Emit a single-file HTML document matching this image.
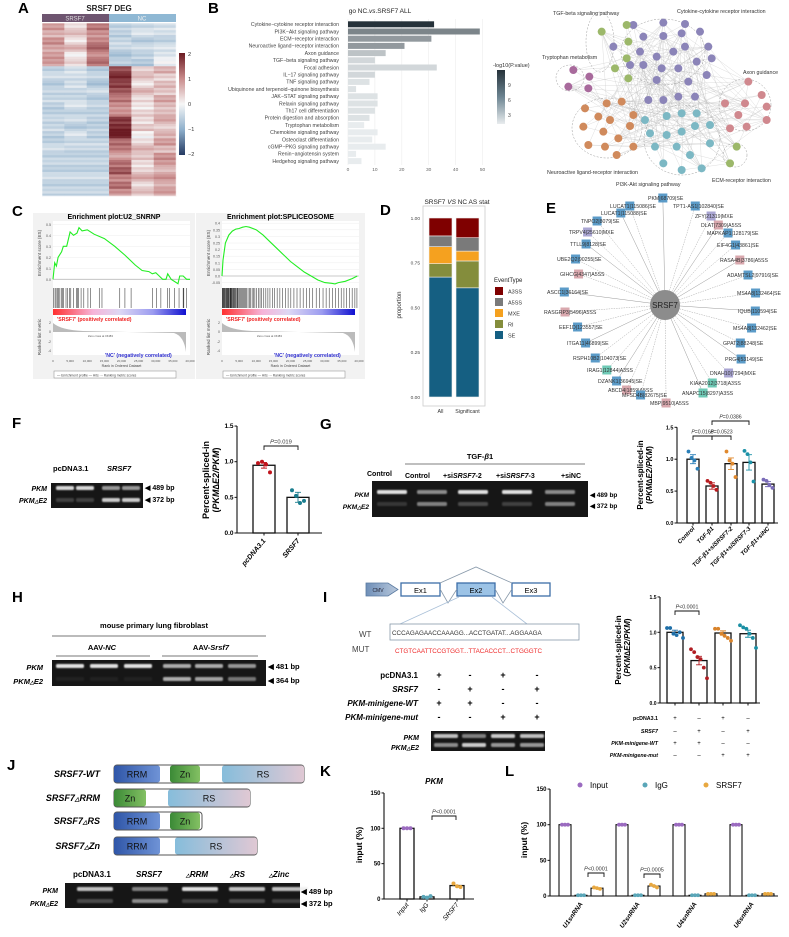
<!DOCTYPE html>
<html><head><meta charset="utf-8"><style>
html,body{margin:0;padding:0;background:#fff;}
svg{display:block;font-family:"Liberation Sans",Arial,sans-serif;}
.pl{font-size:15px;font-weight:bold;fill:#000;}
</style></head><body>
<svg id="fig" width="789" height="937" viewBox="0 0 789 937" xmlns="http://www.w3.org/2000/svg">
<defs>
<linearGradient id="gRRM" x1="0" x2="1"><stop offset="0" stop-color="#2f56a8"/><stop offset="1" stop-color="#6f93d6"/></linearGradient>
<linearGradient id="gZn" x1="0" x2="1"><stop offset="0" stop-color="#3b8a36"/><stop offset="1" stop-color="#83c063"/></linearGradient>
<linearGradient id="gRS" x1="0" x2="1"><stop offset="0" stop-color="#86bddb"/><stop offset="1" stop-color="#e0c8d4"/></linearGradient>
<linearGradient id="gRank" x1="0" x2="1"><stop offset="0" stop-color="#ff3030"/><stop offset="0.3" stop-color="#f6b4d8"/><stop offset="0.5" stop-color="#ddd8f4"/><stop offset="0.75" stop-color="#9c9cf0"/><stop offset="1" stop-color="#1010d0"/></linearGradient>
<linearGradient id="gCb" x1="0" y1="0" x2="0" y2="1"><stop offset="0" stop-color="#6b1a22"/><stop offset="0.25" stop-color="#c98b8b"/><stop offset="0.5" stop-color="#f7f7f7"/><stop offset="0.75" stop-color="#8fb0cc"/><stop offset="1" stop-color="#253a62"/></linearGradient>
<linearGradient id="gPv" x1="0" y1="0" x2="0" y2="1"><stop offset="0" stop-color="#26323a"/><stop offset="0.5" stop-color="#6d8592"/><stop offset="1" stop-color="#e8ecee"/></linearGradient>
<linearGradient id="gArrow" x1="0" x2="1"><stop offset="0" stop-color="#6f8fb8"/><stop offset="1" stop-color="#b8c8dc"/></linearGradient>
<filter id="blur" x="-20%" y="-50%" width="140%" height="200%"><feGaussianBlur stdDeviation="0.8"/></filter>
</defs>
<!-- panel letters -->
<text class="pl" x="18" y="13">A</text>
<text class="pl" x="208" y="13">B</text>
<text class="pl" x="12" y="216">C</text>
<text class="pl" x="380" y="215">D</text>
<text class="pl" x="546" y="213">E</text>
<text class="pl" x="12" y="428">F</text>
<text class="pl" x="320" y="429">G</text>
<text class="pl" x="12" y="602">H</text>
<text class="pl" x="323" y="602">I</text>
<text class="pl" x="7" y="770">J</text>
<text class="pl" x="320" y="776">K</text>
<text class="pl" x="505" y="776">L</text>

<!-- A -->
<text x="109" y="11" font-size="8" font-weight="bold" text-anchor="middle" fill="#222">SRSF7 DEG</text>
<rect x="42" y="14" width="67" height="8" fill="#6e5570"/>
<rect x="109" y="14" width="67" height="8" fill="#8fb8d4"/>
<text x="75" y="20.5" font-size="6" text-anchor="middle" fill="#ddd">SRSF7</text>
<text x="142" y="20.5" font-size="6" text-anchor="middle" fill="#eee">NC</text>
<g id="heat"></g>
<rect x="179" y="53" width="6" height="102" fill="url(#gCb)"/>
<g font-size="5.5" fill="#333">
<text x="188" y="56">2</text><text x="188" y="81">1</text><text x="188" y="106">0</text><text x="188" y="131">−1</text><text x="188" y="156">−2</text></g>

<!-- B -->
<text x="380" y="13" font-size="6.5" text-anchor="middle" fill="#222">go NC.<tspan font-style="italic">vs</tspan>.SRSF7 ALL</text>
<g id="goBars"></g>
<text x="493" y="67" font-size="5.5" fill="#333">-log10(P.value)</text>
<rect x="497" y="70" width="8" height="54" fill="url(#gPv)"/>
<g font-size="5" fill="#444"><text x="508" y="87">9</text><text x="508" y="102">6</text><text x="508" y="117">3</text></g>
<g id="net"></g>

<!-- C -->
<g id="gsea"></g>

<!-- D -->
<text x="457" y="204" font-size="6.5" text-anchor="middle" fill="#222">SRSF7 <tspan font-style="italic">VS</tspan> NC AS stat</text>
<g id="asStat"></g>

<!-- E -->
<g id="star"></g>

<!-- F -->
<text x="53" y="471" font-size="7.5" font-weight="bold">pcDNA3.1</text>
<text x="107" y="471" font-size="7.5" font-weight="bold" font-style="italic">SRSF7</text>
<text x="47" y="491" font-size="7" font-weight="bold" font-style="italic" text-anchor="end">PKM</text>
<text x="47" y="503" font-size="7" font-weight="bold" font-style="italic" text-anchor="end">PKM<tspan font-size="5">△</tspan>E2</text>
<g id="gelF"></g>
<g font-size="7" font-weight="bold"><text x="145" y="490">◀ 489 bp</text><text x="145" y="502">◀ 372 bp</text></g>
<g id="chartF"></g>

<!-- G -->
<text x="480" y="459" font-size="7.5" font-weight="bold" text-anchor="middle">TGF-<tspan font-style="italic">β</tspan>1</text>
<line x1="405" y1="464" x2="585" y2="464" stroke="#999" stroke-width="1.2"/>
<text x="367" y="476" font-size="7" font-weight="bold">Control</text>
<g font-size="7" font-weight="bold"><text x="405" y="478">Control</text><text x="443" y="478">+si<tspan font-style="italic">SRSF7</tspan>-2</text><text x="496" y="478">+si<tspan font-style="italic">SRSF7</tspan>-3</text><text x="561" y="478">+siNC</text></g>
<text x="369" y="497" font-size="6.5" font-weight="bold" font-style="italic" text-anchor="end">PKM</text>
<text x="369" y="509" font-size="6.5" font-weight="bold" font-style="italic" text-anchor="end">PKM<tspan font-size="5">△</tspan>E2</text>
<g id="gelG"></g>
<g font-size="6.5" font-weight="bold"><text x="590" y="497">◀ 489 bp</text><text x="590" y="508">◀ 372 bp</text></g>
<g id="chartG"></g>

<!-- H -->
<text x="154" y="628" font-size="7.5" font-weight="bold" text-anchor="middle">mouse primary lung fibroblast</text>
<line x1="52" y1="636" x2="266" y2="636" stroke="#777"/>
<text x="102" y="650" font-size="7.5" font-weight="bold" text-anchor="middle">AAV-<tspan font-style="italic">NC</tspan></text>
<text x="211" y="650" font-size="7.5" font-weight="bold" text-anchor="middle">AAV-<tspan font-style="italic">Srsf7</tspan></text>
<line x1="56" y1="656" x2="150" y2="656" stroke="#777"/>
<line x1="162" y1="656" x2="258" y2="656" stroke="#777"/>
<text x="43" y="670" font-size="7.5" font-weight="bold" font-style="italic" text-anchor="end">PKM</text>
<text x="43" y="684" font-size="7.5" font-weight="bold" font-style="italic" text-anchor="end">PKM<tspan font-size="5">△</tspan>E2</text>
<g id="gelH"></g>
<g font-size="7.5" font-weight="bold"><text x="268" y="669">◀ 481 bp</text><text x="268" y="683">◀ 364 bp</text></g>

<!-- I -->
<g>
<path d="M366 583 H388 L398 589.5 L388 596 H366 Z" fill="url(#gArrow)" stroke="#5a7aa0" stroke-width="0.8"/>
<text x="378" y="592" font-size="5" text-anchor="middle" fill="#223">CMV</text>
<rect x="401" y="583" width="39" height="13" fill="#fff" stroke="#3d6ea8" stroke-width="1.3"/>
<text x="420.5" y="593" font-size="7.5" text-anchor="middle">Ex1</text>
<rect x="457" y="583" width="38" height="13" fill="#9cc3e6" stroke="#3d6ea8" stroke-width="1.3"/>
<text x="476" y="593" font-size="7.5" text-anchor="middle">Ex2</text>
<rect x="512" y="583" width="38" height="13" fill="#fff" stroke="#3d6ea8" stroke-width="1.3"/>
<text x="531" y="593" font-size="7.5" text-anchor="middle">Ex3</text>
<path d="M440 583 L476 567 L512 583" fill="none" stroke="#8899aa" stroke-width="0.8"/>
<path d="M440 589 L448 603 L457 589 M495 589 L503 603 L512 589" fill="none" stroke="#8899aa" stroke-width="0.8"/>
<path d="M459 597 L400 624 M492 597 L527 624" fill="none" stroke="#aac0d8" stroke-width="0.8"/>
<rect x="390" y="624" width="189" height="16" fill="#fff" stroke="#8899aa" stroke-width="0.8"/>
<text x="392" y="635" font-size="6.3" fill="#333">CCCAGAGAACCAAAGG...ACCTGATAT...AGGAAGA</text>
<text x="359" y="637" font-size="8" fill="#444">WT</text>
<text x="352" y="652" font-size="8" fill="#444">MUT</text>
<text x="395" y="653" font-size="6.3" fill="#ee2a2a">CTGTCAATTCCGTGGT...TTACACCCT...CTGGGTC</text>
</g>
<g font-size="8" font-weight="bold" text-anchor="end">
<text x="418" y="678">pcDNA3.1</text><text x="418" y="692" font-style="italic">SRSF7</text><text x="418" y="706" font-style="italic">PKM-minigene-WT</text><text x="418" y="720" font-style="italic">PKM-minigene-mut</text></g>
<g id="tblI"></g>
<text x="419" y="740" font-size="7" font-weight="bold" font-style="italic" text-anchor="end">PKM</text>
<text x="419" y="750" font-size="7" font-weight="bold" font-style="italic" text-anchor="end">PKM<tspan font-size="5">△</tspan>E2</text>
<g id="gelI"></g>
<g id="chartI"></g>

<!-- J -->
<g id="domains"></g>
<g font-size="8" font-weight="bold"><text x="73" y="877">pcDNA3.1</text><text x="136" y="877" font-style="italic">SRSF7</text><text x="186" y="877" font-style="italic"><tspan font-size="5">△</tspan>RRM</text><text x="230" y="877" font-style="italic"><tspan font-size="5">△</tspan>RS</text><text x="269" y="877" font-style="italic"><tspan font-size="5">△</tspan>Zinc</text></g>
<text x="58" y="893" font-size="7" font-weight="bold" font-style="italic" text-anchor="end">PKM</text>
<text x="58" y="906" font-size="7" font-weight="bold" font-style="italic" text-anchor="end">PKM<tspan font-size="5">△</tspan>E2</text>
<g id="gelJ"></g>
<g font-size="7.5" font-weight="bold"><text x="301" y="894">◀ 489 bp</text><text x="301" y="906">◀ 372 bp</text></g>

<!-- K, L -->
<g id="chartK"></g>
<g id="chartL"></g>
</svg>
<script>
// ===== data =====
const heatBands=[[0.9,0.3,1.2,-0.5,-0.4,-0.3],[0.6,0.5,0.9,-0.6,-0.3,-0.4],[1.0,0.2,1.1,-0.4,-0.6,-0.5],[0.7,0.6,1.3,-0.5,-0.4,-0.3],[0.9,0.1,1.0,-0.7,-0.5,-0.2],[0.8,0.3,1.2,-0.6,-0.7,-0.1],
[-0.5,-0.3,-0.6,1.6,0.4,0.7],[-0.4,-0.4,-0.5,1.8,0.5,0.3],[-0.6,-0.3,-0.7,1.7,0.2,0.6],[-0.5,-0.5,-0.4,1.4,0.6,0.4],[-0.4,-0.4,-0.6,1.2,0.3,0.8],[-0.6,-0.3,-0.5,0.9,0.1,0.5],[-0.5,-0.5,-0.5,1.0,0.4,0.6],[-0.5,-0.4,-0.6,1.7,0.2,0.7],[-0.4,-0.6,-0.5,1.9,0.5,0.4],[-0.6,-0.3,-0.6,2.0,0.0,0.6],[-0.5,-0.4,-0.4,1.3,0.3,0.9],[-0.4,-0.5,-0.5,1.1,0.6,0.5],[-0.5,-0.5,-0.5,0.8,0.5,1.0],[-0.5,-0.5,-0.5,1.2,0.2,0.8],[-0.5,-0.5,-0.5,1.5,0.4,0.6],[-0.4,-0.4,-0.4,1.0,0.7,0.9],[-0.5,-0.5,-0.5,1.3,0.3,0.7],[-0.5,-0.5,-0.5,0.9,0.5,0.8]];
const heatStripeOffsets=[0,0.15,-0.12];

const goTerms=["Cytokine−cytokine receptor interaction","PI3K−Akt signaling pathway","ECM−receptor interaction","Neuroactive ligand−receptor interaction","Axon guidance","TGF−beta signaling pathway","Focal adhesion","IL−17 signaling pathway","TNF signaling pathway","Ubiquinone and terpenoid−quinone biosynthesis","JAK−STAT signaling pathway","Relaxin signaling pathway","Th17 cell differentiation","Protein digestion and absorption","Tryptophan metabolism","Chemokine signaling pathway","Osteoclast differentiation","cGMP−PKG signaling pathway","Renin−angiotensin system","Hedgehog signaling pathway"];
const goCounts=[32,49,31,21,14,10,33,10,8,3,11,11,10,8,6,11,9,14,3,5];
const goLogP=[11,7,6,6,4,3,3,3,2.5,2.5,2.5,2.5,2.5,2.5,2,2,2,2,2,2];
const goTicks=[0,10,20,30,40,50];

const gseaRanksL=[0,500,1000,1500,2500,3000,4000,5000,6000,7000,7600,8500,10000,12000,15000,18000,21000,24000,26000,28000,29000,30000,31000,32000,33000,33500,34500,36500,37000,38000,39000,40000];
const gseaESL=[0,0.15,0.12,0.2,0.25,0.3,0.3,0.43,0.4,0.42,0.47,0.44,0.45,0.41,0.37,0.3,0.22,0.13,0.08,0.07,0.05,0.06,0.03,0.0,0.0,0.05,0.0,-0.04,0.03,0.03,0.0,0.0];
const gseaHitsL=[200,600,900,1300,1600,2000,2400,2700,3100,3800,4300,4800,5200,6000,6800,7200,7500,8200,9000,10200,11000,13500,14300,19500,21000,22800,29000,30200,31500,33500,34000,35500,36800,38000,38200,39000];
const gseaRanksR=[0,300,1000,2000,3000,4000,5000,6000,7000,8000,10000,12000,14000,16000,18000,20000,22000,24000,26000,28000,30000,32000,33000,34000,36000,38000,39500];
const gseaESR=[0,0.12,0.25,0.31,0.34,0.355,0.36,0.37,0.375,0.37,0.35,0.31,0.26,0.21,0.16,0.11,0.07,0.03,0.0,-0.03,-0.05,-0.055,-0.06,-0.05,-0.04,-0.02,0.0];
const gseaHitsR=[100,250,400,550,700,850,1000,1200,1350,1500,1700,1850,2000,2200,2400,2550,2700,2900,3100,3300,3500,3700,3900,4100,4400,4600,4900,5100,5400,5700,6000,6300,6600,6900,7200,7600,8000,8400,8800,9200,9600,10100,10600,11100,11600,12200,12800,13400,14000,14700,15400,16100,16900,17700,18500,19300,20100,21000,21900,22800,23700,24600,25500,26500,27500,28500,29500,30400,31300,32200,33100,34000,34800,35600,36400,37200,38000,38800,39400];

const asEventTypes=["SE","RI","MXE","A5SS","A3SS"];
const asEventColors=["#155f82","#848d3c","#f5a11f","#7a7a7a","#7f0000"];
const asGroups=["All","Significant"];
const asAll=[0.67,0.075,0.095,0.06,0.10];
const asSig=[0.61,0.15,0.055,0.075,0.11];
const asTicks=[0,0.25,0.5,0.75,1.0];

const starLabels=["PKM|68709|SE","LUCAT1|115086|SE","TPT1-AS1|102840|SE","LUCAT1|115088|SE","ZFY|21319|MXE","TNPO2|8079|SE","DLAT|7309|A5SS","TRPV4|25610|MXE","MAPKAP1|128179|SE","TTLL9|8128|SE","EIF4G1|43861|SE","UBE2Q2|90255|SE","RASA4B|3786|A5SS","GIHCG|4347|A5SS","ADAMTSL2|97916|SE","ASCC1|36164|SE","MS4A8|132464|SE","RASGRP3|5496|A5SS","IQUB|110594|SE","EEF1D|123557|SE","MS4A8|132462|SE","ITGA11|46899|SE","GPAT2|88248|SE","RSPH10B2|104073|SE","PRG4|53149|SE","IRAG1|12844|A3SS","DNAH10|7294|MXE","DZANK1|36945|SE","KIAA2012|3718|A3SS","ABCD4|1859|A5SS","ANAPC15|8297|A3SS","MFSD4B|82675|SE","MBP|9510|A5SS"];

const fGroups=["pcDNA3.1","SRSF7"];
const fMeans=[0.95,0.5];
const fSem=[0.04,0.07];
const fPoints=[[0.98,1.0,0.96,0.85],[0.6,0.52,0.42,0.45]];
const psiTicks=[0,0.5,1.0,1.5];

const gGroups=["Control","TGF-β1","TGF-β1+siSRSF7-2","TGF-β1+siSRSF7-3","TGF-β1+siNC"];
const gMeans=[1.0,0.58,0.93,0.95,0.61];
const gSem=[0.07,0.05,0.09,0.12,0.04];
const gPoints=[[1.12,1.02,0.98,0.85],[0.66,0.63,0.58,0.52],[1.12,0.98,0.93,0.72],[1.13,1.08,0.95,0.65],[0.68,0.66,0.6,0.55]];

const iMeans=[1.0,0.6,0.99,0.98];
const iSem=[0.03,0.06,0.03,0.05];
const iPoints=[[1.06,1.06,0.98,0.96,1.0,0.92],[0.76,0.72,0.65,0.62,0.5,0.35],[1.05,1.05,0.98,0.95,0.92,0.88],[1.1,1.07,1.05,0.98,0.92,0.78]];
const iTable=[["+","-","+","-"],["-","+","-","+"],["+","+","-","-"],["-","-","+","+"]];

const kGroups=["Input","IgG","SRSF7"];
const kPoints=[[100,100,100],[3,2,4],[22,18,17]];
const kMeans=[100,3,19];
const ripTicks=[0,50,100,150];

const lGenes=["U1snRNA","U2snRNA","U4snRNA","U6snRNA"];
const lInput=[100,100,100,100];
const lIgG=[1,1,1,1];
const lSRSF7=[11,14,3,3];
const lSRSF7Points=[[12,11,10],[16,14,12],[3,3,3],[3,3,3]];

const gelFUpper=[0.9,0.9,0.6,0.6], gelFLower=[0.2,0.2,0.85,0.85];
const gelGUpper=[0.95,0.55,0.95,0.95,0.55], gelGLower=[0.15,0.5,0.25,0.2,0.5];
const gelHUpper=[0.95,0.95,0.95,0.7,0.7,0.6], gelHLower=[0.05,0.05,0.05,0.7,0.65,0.45];
const gelIUpper=[0.8,0.5,0.85,0.8], gelILower=[0.55,0.85,0.6,0.6];
const gelJUpper=[0.8,0.5,0.95,0.8,0.8], gelJLower=[0.25,0.55,0.2,0.25,0.2];

// ===== helpers =====
const NS='http://www.w3.org/2000/svg';
function mk(tag,attrs,parent){const e=document.createElementNS(NS,tag);for(const k in attrs)e.setAttribute(k,attrs[k]);parent.appendChild(e);return e;}
function tx(str,x,y,size,attrs,parent){const a=Object.assign({x:x,y:y,'font-size':size},attrs||{});const e=mk('text',a,parent);e.textContent=str;return e;}
function $(id){return document.getElementById(id);}
function lerp(a,b,t){return a+(b-a)*t;}
function mix(c1,c2,t){return 'rgb('+[0,1,2].map(i=>Math.round(lerp(c1[i],c2[i],t))).join(',')+')';}
function heatColor(v){v=Math.max(-2,Math.min(2,v));
 const stops=[[-2,[37,58,98]],[-1,[143,176,204]],[0,[247,247,247]],[1,[201,139,139]],[2,[107,26,34]]];
 for(let i=0;i<4;i++){if(v<=stops[i+1][0]){return mix(stops[i][1],stops[i+1][1],(v-stops[i][0]));}}return 'rgb(107,26,34)';}

// ===== A heatmap =====
(function(){const g=$('heat');const x0=42,w=22.35,y0=23,bh=173/heatBands.length;
 heatBands.forEach((row,r)=>{row.forEach((v,c)=>{heatStripeOffsets.forEach((o,s)=>{
  const e=mk('rect',{x:x0+c*w,y:y0+r*bh+s*bh/3,width:w+0.3,height:bh/3+0.3,fill:heatColor(v+o*(r%2?1:-1))},g);
  
  });});});
 const b=mk('rect',{x:x0,y:y0,width:w*6,height:173,fill:'none',stroke:'#fff','stroke-width':0.6},g);
 
})();

// ===== B bars =====
(function(){const g=$('goBars');const x0=348,k=2.69,y0=24.3,dy=7.2;
 const xs=v=>x0+v*k;
 const bg=mk('rect',{x:x0-4,y:19,width:142,height:146,fill:'#fff'},g);
 
 goTicks.forEach(t=>{const l=mk('line',{x1:xs(t),x2:xs(t),y1:19,y2:165,stroke:'#ececec','stroke-width':0.6},g);
  
  const tt=tx(String(t),xs(t),171,4.8,{'text-anchor':'middle',fill:'#666'},g);
  });
 const pmin=2,pmax=11;
 goTerms.forEach((name,i)=>{const y=y0+i*dy;
  const t=(goLogP[i]-pmin)/(pmax-pmin);
  const r=mk('rect',{x:x0,y:y-3,width:goCounts[i]*k,height:6,fill:mix([232,236,238],[38,50,58],t)},g);
  
  
  const lb=tx(name,339,y+1.8,5.2,{'text-anchor':'end',fill:'#444'},g);
  });
})();

// ===== B network =====
(function(){const g=$('net');
 const clusters=[
  {c:'#8b84b8',n:[[310,75],[400,68],[465,72],[340,110],[400,108],[455,100],[510,95],[250,140],[330,155],[380,170],[430,155],[465,140],[535,140],[545,175],[300,195],[340,195],[395,205],[445,205],[500,185],[380,240],[475,245],[530,225],[355,300],[400,300],[445,290],[495,290]]},
  {c:'#9cb86a',n:[[215,95],[290,75],[295,125],[290,175],[255,205],[295,235],[620,440],[600,490]]},
  {c:'#a86a9c',n:[[130,210],[178,230],[115,260],[175,265]]},
  {c:'#d08a5c',n:[[165,325],[230,310],[275,305],[205,350],[240,360],[310,345],[160,380],[220,395],[300,378],[265,415],[175,435],[225,440],[310,440],[260,465]]},
  {c:'#7cb8c4',n:[[345,360],[410,348],[455,340],[500,340],[360,400],[410,405],[455,395],[495,378],[540,375],[375,440],[440,440],[480,465],[540,430],[400,490],[455,510],[515,505]]},
  {c:'#d0888e',n:[[655,245],[695,285],[585,310],[645,310],[710,320],[625,345],[710,360],[600,385],[650,380]]}];
 const all=[];clusters.forEach(cl=>cl.n.forEach(p=>all.push([530+p[0]/3,p[1]/3])));
 const N=all.length;
 for(let i=0;i<N;i++){for(let s=1;s<=3;s++){const j=(i*7+s*11)%N;
  const l=mk('line',{x1:all[i][0],y1:all[i][1],x2:all[j][0],y2:all[j][1],stroke:'#bdbdbd','stroke-width':0.25},g);
  }}
 const ells=[[663,52,42,33],[570,78,14,13],[600,42,14,30],[607,128,35,30],[682,140,38,35],[745,105,26,26],[735,155,12,12]];
 ells.forEach(e=>{const el=mk('ellipse',{cx:e[0],cy:e[1],rx:e[2],ry:e[3],fill:'none',stroke:'#999','stroke-width':0.5,'stroke-dasharray':'2,1.5'},g);
  });
 clusters.forEach(cl=>cl.n.forEach(p=>{const c=mk('circle',{cx:530+p[0]/3,cy:p[1]/3,r:4,fill:cl.c},g);
  
  }));
 const labs=[["TGF-beta signaling pathway",553,15],["Cytokine-cytokine receptor interaction",677,13],["Tryptophan metabolism",542,59],["Axon guidance",743,74],["Neuroactive ligand-receptor interaction",547,174],["PI3K-Akt signaling pathway",616,186],["ECM-receptor interaction",712,182]];
 labs.forEach(l=>{const t=tx(l[0],l[1],l[2],5.3,{fill:'#333'},g);
  });
})();

// ===== C GSEA =====
function gsea(g,box,x0,x1,esTicks,esY0,esPer,ranks,es,hits,title){
 const r=mk('rect',{x:box[0],y:box[1],width:box[2],height:box[3],fill:'#f2f2f2'},g);
 
 const pr=mk('rect',{x:x0,y:221,width:x1-x0,height:134,fill:'#fff'},g);
 
 const tt=tx(title,(box[0]+box[0]+box[2])/2,219,7,{'text-anchor':'middle','font-weight':'bold'},g);
 
 const xs=v=>x0+(x1-x0)*v/40000, ys=v=>esY0-v*esPer;
 esTicks.forEach(t=>{const l=mk('line',{x1:x0,x2:x1,y1:ys(t),y2:ys(t),stroke:'#eee','stroke-width':0.5},g);
  
  const lb=tx(t.toFixed(2).replace(/^0\.(\d)0$/,'0.$1'),x0-2,ys(t)+1.5,3.6,{'text-anchor':'end',fill:'#555'},g);
  });
 const z=mk('line',{x1:x0,x2:x1,y1:ys(0),y2:ys(0),stroke:'#bbb','stroke-width':0.8},g);
 
 const d=ranks.map((v,i)=>(i?'L':'M')+xs(v).toFixed(1)+' '+ys(es[i]).toFixed(1)).join(' ');
 const p=mk('path',{d:d,fill:'none',stroke:'#22ee22','stroke-width':1.1},g);
 
 hits.forEach(h=>{const l=mk('line',{x1:xs(h),x2:xs(h),y1:288,y2:308,stroke:'#222','stroke-width':0.5},g);
  });
 const gb=mk('rect',{x:x0,y:309,width:x1-x0-4,height:6,fill:'url(#gRank)'},g);
 
 const area=mk('path',{d:`M${x0} 323 Q${x0+8} 330 ${x0+30} 331 L${x1-16} 333 Q${x1-6} 336 ${x1-4} 352 L${x1-4} 332 L${x0} 332 Z`,fill:'#bbb'},g);
 
 [['2',323],['0',332],['-2',342],['-4',351]].forEach(a=>{const l=tx(a[0],x0-2,a[1]+1,3.5,{'text-anchor':'end',fill:'#555'},g);
  });
 const pos=tx("'SRSF7' (positively correlated)",x0+4,321,5.2,{fill:'#ee2020','font-weight':'bold'},g);
 
 const neg=tx("'NC' (negatively correlated)",x0+52,357,5.2,{fill:'#3030d0','font-weight':'bold'},g);
 
 const zc=tx('Zero cross at 15483',x0+35,337,2.8,{fill:'#555'},g);
 
 [0,5000,10000,15000,20000,25000,30000,35000,40000].forEach(v=>{const l=tx(v.toLocaleString('en-US'),xs(v),362,3,{'text-anchor':'middle',fill:'#555'},g);
  });
 const xt=tx('Rank in Ordered Dataset',(x0+x1)/2,367,3.6,{'text-anchor':'middle',fill:'#444'},g);
 
 const yt=tx('Enrichment score (ES)',0,0,4.6,{'text-anchor':'middle',fill:'#444',transform:`translate(${x0-12},253) rotate(-90)`},g);
 
 const yt2=tx('Ranked list metric',0,0,4.6,{'text-anchor':'middle',fill:'#444',transform:`translate(${x0-12},337) rotate(-90)`},g);
 
 const lg=mk('rect',{x:x0+1,y:371,width:122,height:7,fill:'#fff',stroke:'#888','stroke-width':0.5},g);
 
 const lt=tx('— Enrichment profile — Hits ··· Ranking metric scores',x0+4,376.5,3.3,{fill:'#444'},g);
 
}
gsea($('gsea'),[33,213,162,166],53,190,[0,0.1,0.2,0.3,0.4,0.5],279.3,110,gseaRanksL,gseaESL,gseaHitsL,'Enrichment plot:U2_SNRNP');
gsea($('gsea'),[196,213,169,166],222,359,[-0.05,0,0.05,0.1,0.15,0.2,0.25,0.3,0.35,0.4],276,132,gseaRanksR,gseaESR,gseaHitsR,'Enrichment plot:SPLICEOSOME');

// ===== D stacked =====
(function(){const g=$('asStat');const y0=397,H=179;const ys=v=>y0-v*H;
 const fr=mk('rect',{x:423,y:206,width:62,height:200,fill:'#fff',stroke:'#ccc','stroke-width':0.8},g);
 
 asTicks.forEach(t=>{const l=tx(t.toFixed(2),420,ys(t)+1.8,4.8,{'text-anchor':'end',fill:'#444'},g);
  });
 const yl=tx('proportion',0,0,6,{'text-anchor':'middle',fill:'#333',transform:'translate(401,305) rotate(-90)'},g);
 
 [asAll,asSig].forEach((vals,gi)=>{let acc=0;const x=gi?456:429;
  vals.forEach((v,k)=>{const r=mk('rect',{x:x,y:ys(acc+v),width:23,height:v*H,fill:asEventColors[k],stroke:'#eee','stroke-width':0.6},g);
   
   acc+=v;});
  const l=tx(asGroups[gi],x+11.5,413,5.3,{'text-anchor':'middle',fill:'#333'},g);
  });
 const lt=tx('EventType',494,282,6,{fill:'#222'},g);
 
 const order=[4,3,2,1,0];
 order.forEach((k,i)=>{const y=287+i*11;
  const s=mk('rect',{x:495,y:y,width:8,height:8,fill:asEventColors[k]},g);
  
  const t=tx(asEventTypes[k],508,y+6.5,5.5,{fill:'#333'},g);
  });
})();

// ===== E star network =====
(function(){const g=$('star');const cx=665,cy=305;
 const pos=[[648,200],[610,208],[673,208],[601,215],[695,218],[581,223],[701,227],[569,234],[707,235],[570,246],[717,247],[557,261],[720,262],[560,276],[727,277],[547,294],[737,295],[544,314],[738,313],[559,329],[733,330],[567,345],[723,345],[573,360],[725,361],[587,372],[710,375],[598,383],[690,385],[608,392],[682,395],[622,397],[650,405]];
 const colorOf=s=>s.endsWith('MXE')?'#aaa6d3':s.endsWith('A5SS')?'#d9a8ae':s.endsWith('A3SS')?'#6fcab6':'#5b9bc8';
 starLabels.forEach((s,i)=>{const p=pos[i];const w=s.length*2.75;const sx=p[0]+w*0.45;
  const l=mk('line',{x1:cx,y1:cy,x2:sx,y2:p[1]-2,stroke:i%3?'#aaa':'#999','stroke-width':0.5,'stroke-dasharray':i%3?'1.5,1':'none'},g);
  });
 starLabels.forEach((s,i)=>{const p=pos[i];const w=s.length*2.75;const sx=p[0]+w*0.45;
  const r=mk('rect',{x:sx-4.5,y:p[1]-6.5,width:9,height:9,fill:colorOf(s)},g);
  
  
  const t=tx(s,p[0],p[1],5.2,{fill:'#333'},g);
  });
 const c=mk('circle',{cx:cx,cy:cy,r:15,fill:'#8c8c8c'},g);
 
 const ct=tx('SRSF7',cx,cy+3,8,{'text-anchor':'middle',fill:'#222'},g);
 
})();

// ===== gels =====
function gel(id,x,y,w,h,centers,lw,uy,ly,up,lo){const g=$(id);
 const bg=mk('rect',{x:x,y:y,width:w,height:h,fill:'#161616'},g);
 
 centers.forEach((c,i)=>{
  const a=mk('rect',{x:c-lw/2,y:uy-2,width:lw,height:4,rx:1.5,fill:'#ececec','fill-opacity':up[i],filter:'url(#blur)'},g);
  
  const b=mk('rect',{x:c-lw/2,y:ly-2,width:lw,height:4,rx:1.5,fill:'#ececec','fill-opacity':lo[i],filter:'url(#blur)'},g);
  });
}
gel('gelF',51,483,92,25,[65,85,111,131],18,488,500,gelFUpper,gelFLower);
gel('gelG',372,481,216,36,[392,432,473,517,560],30,492,504,gelGUpper,gelGLower);
gel('gelH',52,660,214,26,[70,104,138,177,209,242],28,666,679,gelHUpper,gelHLower);
gel('gelI',431,731,114,20,[446,474,503,532],24,736,745,gelIUpper,gelILower);
gel('gelJ',65,883,235,25,[95,150,200,247,290],36,889,901,gelJUpper,gelJLower);

// ===== bar chart helper =====
function psiChart(g,o){
 const ys=v=>o.y0-v*o.unit;
 const ax=mk('path',{d:`M${o.ax} ${ys(o.max)} V${o.y0} H${o.xend}`,fill:'none',stroke:'#111','stroke-width':1.1},g);
 
 o.ticks.forEach(t=>{const l=mk('line',{x1:o.ax-2.5,x2:o.ax,y1:ys(t),y2:ys(t),stroke:'#111','stroke-width':1},g);
  
  const tl=tx(o.fmt(t),o.ax-3.5,ys(t)+2,o.fs,{'text-anchor':'end','font-weight':'bold'},g);
  });
 o.means.forEach((m,i)=>{const c=o.centers[i];
  const b=mk('rect',{x:c-o.bw/2,y:ys(m),width:o.bw,height:m*o.unit,fill:'#fff',stroke:'#111','stroke-width':1.3},g);
  
  
  const tk=mk('line',{x1:c,x2:c,y1:o.y0,y2:o.y0+2.5,stroke:'#111'},g);
  
  if(o.sem){const s=o.sem[i];const eb=mk('path',{d:`M${c} ${ys(m+s)} V${ys(m-s)} M${c-3} ${ys(m+s)} H${c+3} M${c-3} ${ys(m-s)} H${c+3}`,stroke:o.colors[i],'stroke-width':0.9,fill:'none'},g);
   }
  o.points[i].forEach((v,j)=>{const n=o.points[i].length;const dx=(j-(n-1)/2)*o.jit;
   const p=mk('circle',{cx:c+dx,cy:ys(v),r:o.pr,fill:o.colors[i]},g);
   
   });});
}
function bracket(g,x1,x2,y,label,fs){const p=mk('path',{d:`M${x1} ${y+4} V${y} H${x2} V${y+4}`,fill:'none',stroke:'#111','stroke-width':0.9},g);
 
 const t=tx('',(x1+x2)/2,y-2.5,fs,{'text-anchor':'middle',fill:'#333'},g);
 t.innerHTML='<tspan font-style="italic">P</tspan>'+label;
 }
function ylab(g,lines,x,y,fs){lines.forEach((s,i)=>{const t=tx('',0,0,fs,{'text-anchor':'middle','font-weight':'bold',transform:`translate(${x+i*(fs+1)},${y}) rotate(-90)`},g);
 t.innerHTML=s;});}
const f1=t=>t.toFixed(1);

// F
(function(){const g=$('chartF');
 psiChart(g,{ax:237,y0:533,unit:71.3,max:1.5,xend:322,ticks:psiTicks,fmt:f1,fs:6.5,means:fMeans,sem:fSem,points:fPoints,centers:[264,298],bw:22,colors:['#c0141c','#1b7e8f'],pr:2,jit:4});
 bracket(g,264,298,446,'=0.019',5.8);
 ylab(g,['Percent-spliced-in','(<tspan font-style="italic">PKM</tspan>∆<tspan font-style="italic">E2/PKM</tspan>)'],209,480,9);
 fGroups.forEach((s,i)=>{const c=[264,298][i];const t=tx(s,c+2,541,7,{'text-anchor':'end','font-weight':'bold','font-style':'italic',transform:`rotate(-50,${c+2},541)`},g);
  });
})();
// G
(function(){const g=$('chartG');const cs=[693,712,731,749,768];
 psiChart(g,{ax:677,y0:523,unit:63.8,max:1.5,xend:778,ticks:psiTicks,fmt:f1,fs:5.5,means:gMeans,sem:gSem,points:gPoints,centers:cs,bw:12,colors:['#2a7fb8','#b81c20','#e0892e','#1c92a8','#7a6cb8'],pr:1.9,jit:3});
 bracket(g,693,712,436,'=0.0168',5.2);
 bracket(g,712,731,436,'=0.0523',5.2);
 bracket(g,712,749,421,'=0.0386',5.2);
 ylab(g,['Percent-spliced-in','(<tspan font-style="italic">PKM</tspan>∆<tspan font-style="italic">E2/PKM</tspan>)'],643,475,8);
 gGroups.forEach((s,i)=>{const c=cs[i];const t=tx('',c+2,529,6,{'text-anchor':'end','font-weight':'bold','font-style':'italic',transform:`rotate(-45,${c+2},529)`},g);
  t.textContent=s;
  });
})();
// I
(function(){const g=$('chartI');const cs=[675,699,723,748];
 psiChart(g,{ax:660,y0:703,unit:70.7,max:1.5,xend:760,ticks:psiTicks,fmt:f1,fs:5,means:iMeans,sem:iSem,points:iPoints,centers:cs,bw:16,colors:['#1f6fa8','#b01c22','#d9832a','#1a8fa4'],pr:1.9,jit:3.2});
 bracket(g,675,699,611,'<0.0001',5.3);
 ylab(g,['Percent-spliced-in','（<tspan font-style="italic">PKM∆E2/PKM</tspan>)'],621,650,8);
 const labs=['pcDNA3.1','SRSF7','PKM-minigene-WT','PKM-minigene-mut'];const ry=[720,733,745,757];
 labs.forEach((s,r)=>{const t=tx(s,658,ry[r],5.3,{'text-anchor':'end','font-weight':'bold','font-style':r?'italic':'normal'},g);
  
  iTable[r].forEach((v,c)=>{const m=tx(v==='+'?'+':'–',cs[c],ry[r],6,{'text-anchor':'middle'},g);
   });});
})();
// I minigene table
(function(){const g=$('tblI');const cs=[439,470,503,537];const ry=[678,692,706,720];
 iTable.forEach((row,r)=>row.forEach((v,c)=>{const t=tx(v,cs[c],ry[r],9,{'text-anchor':'middle','font-weight':'bold'},g);
  }));})();

// J domains
(function(){const g=$('domains');
 const rows=[['SRSF7-WT',774,304,[['RRM',114,160,'url(#gRRM)'],['Zn',170,200,'url(#gZn)'],['RS',222,304,'url(#gRS)']]],
  ['SRSF7△RRM',798,250,[['Zn',114,146,'url(#gZn)'],['RS',168,250,'url(#gRS)']]],
  ['SRSF7△RS',821,202,[['RRM',114,160,'url(#gRRM)'],['Zn',170,200,'url(#gZn)']]],
  ['SRSF7△Zn',846,257,[['RRM',114,160,'url(#gRRM)'],['RS',175,257,'url(#gRS)']]]];
 rows.forEach(r=>{const y=r[1];
  const lb=tx('',100,y+3,9,{'text-anchor':'end','font-weight':'bold','font-style':'italic'},g);
  lb.innerHTML=r[0].replace('△','<tspan font-size="6">△</tspan>');
  
  const box=mk('rect',{x:114,y:y-9,width:r[2]-114,height:18,rx:3,fill:'#fff',stroke:'#555','stroke-width':1},g);
  
  r[3].forEach(d=>{const e=mk('rect',{x:d[1],y:y-8.5,width:d[2]-d[1],height:17,rx:2.5,fill:d[3]},g);
   
   const t=tx(d[0],(d[1]+d[2])/2,y+3.5,9,{'text-anchor':'middle','fill':'#111'},g);
   });});
})();

// K
(function(){const g=$('chartK');const cs=[407,427,457];
 const t=tx('PKM',434,784,8,{'text-anchor':'middle','font-weight':'bold','font-style':'italic'},g);
 
 psiChart(g,{ax:384,y0:899,unit:0.707,max:150,xend:474,ticks:ripTicks,fmt:v=>String(v),fs:6,means:kMeans,sem:null,points:kPoints,centers:cs,bw:14,colors:['#9b6bc0','#5aa6b8','#e8a840'],pr:2,jit:3.5});
 bracket(g,432,456,816,'<0.0001',5.5);
 ylab(g,['input (%)'],362,845,8.5);
 kGroups.forEach((s,i)=>{const c=cs[i];const l=tx(s,c+2,905,6.5,{'text-anchor':'end','font-style':'italic',transform:`rotate(-50,${c+2},905)`},g);
  });
})();
// L
(function(){const g=$('chartL');const y0=896,u=0.713;const ys=v=>y0-v*u;const ax=550;
 const a=mk('path',{d:`M${ax} ${ys(150)} V${y0} H778`,fill:'none',stroke:'#111','stroke-width':1.1},g);
 
 ripTicks.forEach(t=>{const l=mk('line',{x1:ax-2.5,x2:ax,y1:ys(t),y2:ys(t),stroke:'#111'},g);
  
  const tl=tx(String(t),ax-3.5,ys(t)+2,6,{'text-anchor':'end','font-weight':'bold'},g);
  });
 ylab(g,['input (%)'],527,840,8.5);
 const cols=['#9b6bc0','#5aa6b8','#e8a840'];
 [['Input',580],['IgG',645],['SRSF7',706]].forEach((e,i)=>{const d=mk('circle',{cx:e[1],cy:785,r:2.5,fill:cols[i]},g);
  
  const t=tx(e[0],e[1]+10,788,8,{},g);
  });
 const gc=[565,622,679,736];
 lGenes.forEach((gn,i)=>{const c=gc[i];
  [[lInput[i],c,0],[lIgG[i],c+16,1],[lSRSF7[i],c+32,2]].forEach(b=>{
   const r=mk('rect',{x:b[1]-6,y:ys(b[0]),width:12,height:b[0]*u,fill:'#fff',stroke:'#111','stroke-width':1.1},g);
   
   
   const pts=b[2]===2?lSRSF7Points[i]:[b[0],b[0],b[0]];
   pts.forEach((v,j)=>{const p=mk('circle',{cx:b[1]+(j-1)*3,cy:ys(v),r:1.9,fill:cols[b[2]]},g);
    
    });});
  const l=tx(gn,c+18,904,6.5,{'text-anchor':'end','font-style':'italic','font-weight':'bold',transform:`rotate(-55,${c+18},904)`},g);
  });
 bracket(g,588,604,873,'<0.0001',5.5);
 bracket(g,644,660,874,'=0.0005',5.5);
})();
</script>
</body></html>
